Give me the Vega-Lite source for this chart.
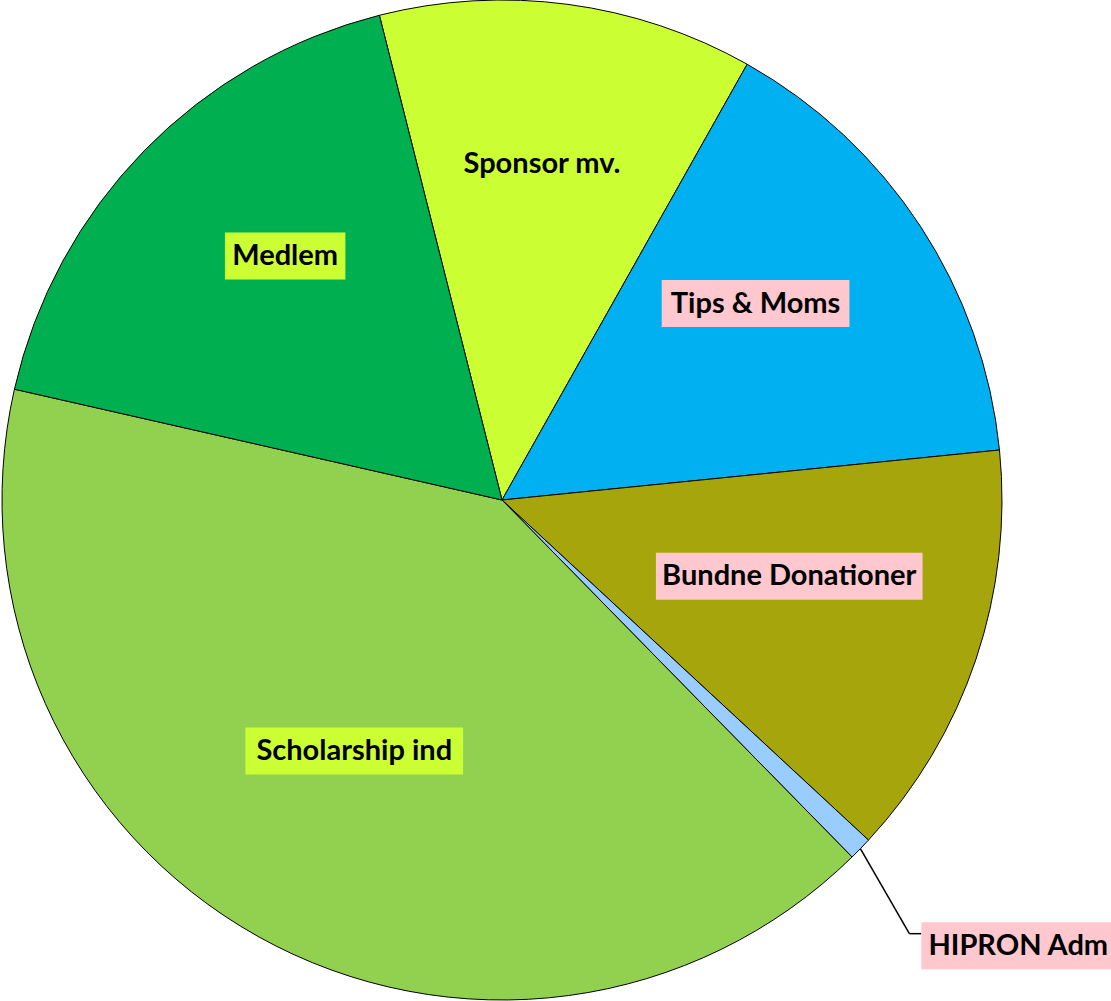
{
  "$schema": "https://vega.github.io/schema/vega-lite/v6.json",
  "width": 1111,
  "height": 1001,
  "autosize": "none",
  "padding": 0,
  "background": "white",
  "config": {"view": {"stroke": null}},
  "data": {"values": [
    {"label": "Sponsor mv.", "value": 12.1, "order": 1},
    {"label": "Tips & Moms", "value": 15.25, "order": 2},
    {"label": "Bundne Donationer", "value": 13.5, "order": 3},
    {"label": "HIPRON Adm", "value": 0.75, "order": 4},
    {"label": "Scholarship ind", "value": 40.9, "order": 5},
    {"label": "Medlem", "value": 17.5, "order": 6}
  ]},
  "transform": [
    {"joinaggregate": [{"op": "sum", "field": "value", "as": "total"}]},
    {"window": [{"op": "sum", "field": "value", "as": "cum"}], "sort": [{"field": "order"}], "frame": [null, 0]},
    {"calculate": "-0.2478 + 2*PI*(datum.cum - datum.value/2)/datum.total", "as": "a"},
    {"calculate": "datum.value/datum.total < 0.02", "as": "small"},
    {"calculate": "500*sin(datum.a)", "as": "ex"},
    {"calculate": "500*cos(datum.a)", "as": "ey"},
    {"calculate": "595*sin(datum.a+0.045)", "as": "kx"},
    {"calculate": "595*cos(datum.a+0.045)", "as": "ky"},
    {"calculate": "length(replace(datum.label, regexp('[^MmWw]', 'g'), ''))", "as": "nw"},
    {"calculate": "length(replace(datum.label, regexp('[^ABCDEFGHJKLNOPQRSTUVXYZ]', 'g'), ''))", "as": "nu"},
    {"calculate": "length(replace(datum.label, regexp('[^csaez]', 'g'), ''))", "as": "nm"},
    {"calculate": "length(replace(datum.label, regexp('[^trf]', 'g'), ''))", "as": "ns"},
    {"calculate": "length(replace(datum.label, regexp('[^ilIj. ]', 'g'), ''))", "as": "nn"},
    {"calculate": "29*(0.57*(length(datum.label)-datum.nw-datum.nu-datum.nm-datum.ns-datum.nn) + 0.88*datum.nw + 0.68*datum.nu + 0.46*datum.nm + 0.37*datum.ns + 0.25*datum.nn) + 19", "as": "w"},
    {"calculate": "datum.small ? datum.kx + 12 + datum.w/2 : 303*sin(datum.a)", "as": "cx"},
    {"calculate": "datum.small ? datum.ky - 12 : 315*cos(datum.a) + 24", "as": "cy"},
    {"calculate": "datum.cx - datum.w/2", "as": "bx1"},
    {"calculate": "datum.cx + datum.w/2", "as": "bx2"},
    {"calculate": "datum.cy - 23.5", "as": "by1"},
    {"calculate": "datum.cy + 23.5", "as": "by2"}
  ],
  "layer": [
    {
      "mark": {"type": "arc", "outerRadius": 500, "stroke": "black", "strokeWidth": 1},
      "encoding": {
        "theta": {"field": "value", "type": "quantitative", "stack": true, "scale": {"range": [-0.2478, 6.0354], "nice": false, "zero": true}},
        "order": {"field": "order", "type": "quantitative"},
        "fill": {"field": "label", "type": "nominal", "legend": null,
          "scale": {"domain": ["Sponsor mv.", "Tips & Moms", "Bundne Donationer", "HIPRON Adm", "Scholarship ind", "Medlem"],
                    "range": ["#CCFF33", "#00B0F0", "#A6A50B", "#99CCFF", "#92D050", "#00B050"]}},
        "x": {"datum": 0, "type": "quantitative", "scale": {"domain": [-502, 609], "nice": false, "zero": false}, "axis": null},
        "y": {"datum": 0, "type": "quantitative", "scale": {"domain": [-501, 500], "nice": false, "zero": false}, "axis": null}
      }
    },
    {
      "transform": [{"filter": "datum.small"}],
      "mark": {"type": "rule", "stroke": "black", "strokeWidth": 1.5},
      "encoding": {
        "x": {"field": "ex", "type": "quantitative", "axis": null},
        "y": {"field": "ey", "type": "quantitative", "axis": null},
        "x2": {"field": "kx"},
        "y2": {"field": "ky"}
      }
    },
    {
      "transform": [{"filter": "datum.small"}],
      "mark": {"type": "rule", "stroke": "black", "strokeWidth": 1.5},
      "encoding": {
        "x": {"field": "kx", "type": "quantitative", "axis": null},
        "y": {"field": "ky", "type": "quantitative", "axis": null},
        "x2": {"field": "bx1"},
        "y2": {"field": "ky"}
      }
    },
    {
      "mark": {"type": "rect"},
      "encoding": {
        "x": {"field": "bx1", "type": "quantitative", "axis": null},
        "x2": {"field": "bx2"},
        "y": {"field": "by1", "type": "quantitative", "axis": null},
        "y2": {"field": "by2"},
        "fill": {"condition": {"test": "indexof(['Tips & Moms','Bundne Donationer','HIPRON Adm'], datum.label) >= 0", "value": "#FFC7CE"}, "value": "#CCFF33"}
      }
    },
    {
      "mark": {"type": "text", "font": "Lato", "fontWeight": "bold", "fontSize": 29, "align": "center", "baseline": "middle", "color": "black"},
      "encoding": {
        "x": {"field": "cx", "type": "quantitative", "axis": null},
        "y": {"field": "cy", "type": "quantitative", "axis": null},
        "text": {"field": "label", "type": "nominal"}
      }
    }
  ]
}
